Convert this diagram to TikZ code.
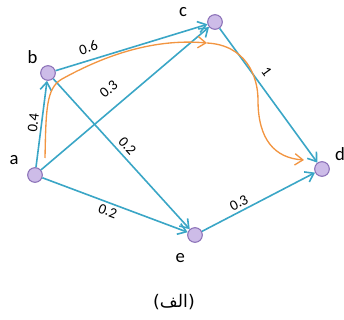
\documentclass[tikz,border=0pt]{standalone}
\usepackage{fontspec}
\setmainfont{Carlito}
\newfontfamily\arabicfont[Script=Arabic]{DejaVu Sans}
\TeXXeTstate=1
\usetikzlibrary{arrows.meta}
\definecolor{EdgeTeal}{HTML}{3AA6C6}
\definecolor{RouteOrange}{HTML}{F29541}
\definecolor{VertexFill}{HTML}{CDBCE8}
\definecolor{VertexDraw}{HTML}{8C72B8}

\begin{document}
\begin{tikzpicture}[
	x=0.75pt, y=-0.75pt,
	vertex/.style={circle, draw=VertexDraw, fill=VertexFill, line width=0.8pt, minimum size=11pt, inner sep=0pt},
	nlabel/.style={font=\fontsize{14}{16}\selectfont, inner sep=1pt},
	edge/.style={-{Straight Barb[length=6pt,width=8.5pt]}, EdgeTeal, line width=1.2pt},
	route/.style={-{Straight Barb[length=6pt,width=8.5pt]}, RouteOrange, line width=1pt},
	wt/.style={font=\fontsize{11}{13}\selectfont, text=black, sloped, inner sep=2pt}
]
\useasboundingbox (0,0) rectangle (344,320);

\node[vertex, label={[nlabel, label distance=7pt]150:a}] (a) at (35,175) {};
\node[vertex, label={[nlabel, label distance=3pt]140:b}] (b) at (48,73) {};
\node[vertex, label={[nlabel, label distance=14pt]172:c}] (c) at (215,22) {};
\node[vertex, label={[nlabel, label distance=4pt]30:d}] (d) at (322,169) {};
\node[vertex, label={[nlabel, label distance=8pt]243:e}] (e) at (195,235) {};

\draw[edge] (a) -- node[wt, above, pos=.5] {0.4} (b);
\draw[edge] (a) -- node[wt, above=7pt, pos=.47] {0.3} (c);
\draw[edge] (a) -- node[wt, below, pos=.47] {0.2} (e);
\draw[edge] (b) -- node[wt, above=3pt, pos=.24] {0.6} (c);
\draw[edge] (b) -- node[wt, above=1pt, pos=.49] {0.2} (e);
\draw[edge] (c) -- node[wt, above=3pt, pos=.38] {1} (d);
\draw[edge] (e) -- node[wt, above, pos=.36] {0.3} (d);

\coordinate (r0) at (45,158);
\coordinate (rm) at (207,43);
\coordinate (r1) at (304,160);
\draw[route] (r0) .. controls (46,110) and (46,88) .. (62,79) .. controls (100,58) and (150,38) .. (rm);
\draw[route] (rm) .. controls (245,45) and (258,75) .. (258,100) .. controls (258,140) and (275,158) .. (r1);

\node (cap) at (174,302) {\arabicfont\fontsize{13}{15}\selectfont\beginR(الف)\endR};
\end{tikzpicture}
\end{document}
